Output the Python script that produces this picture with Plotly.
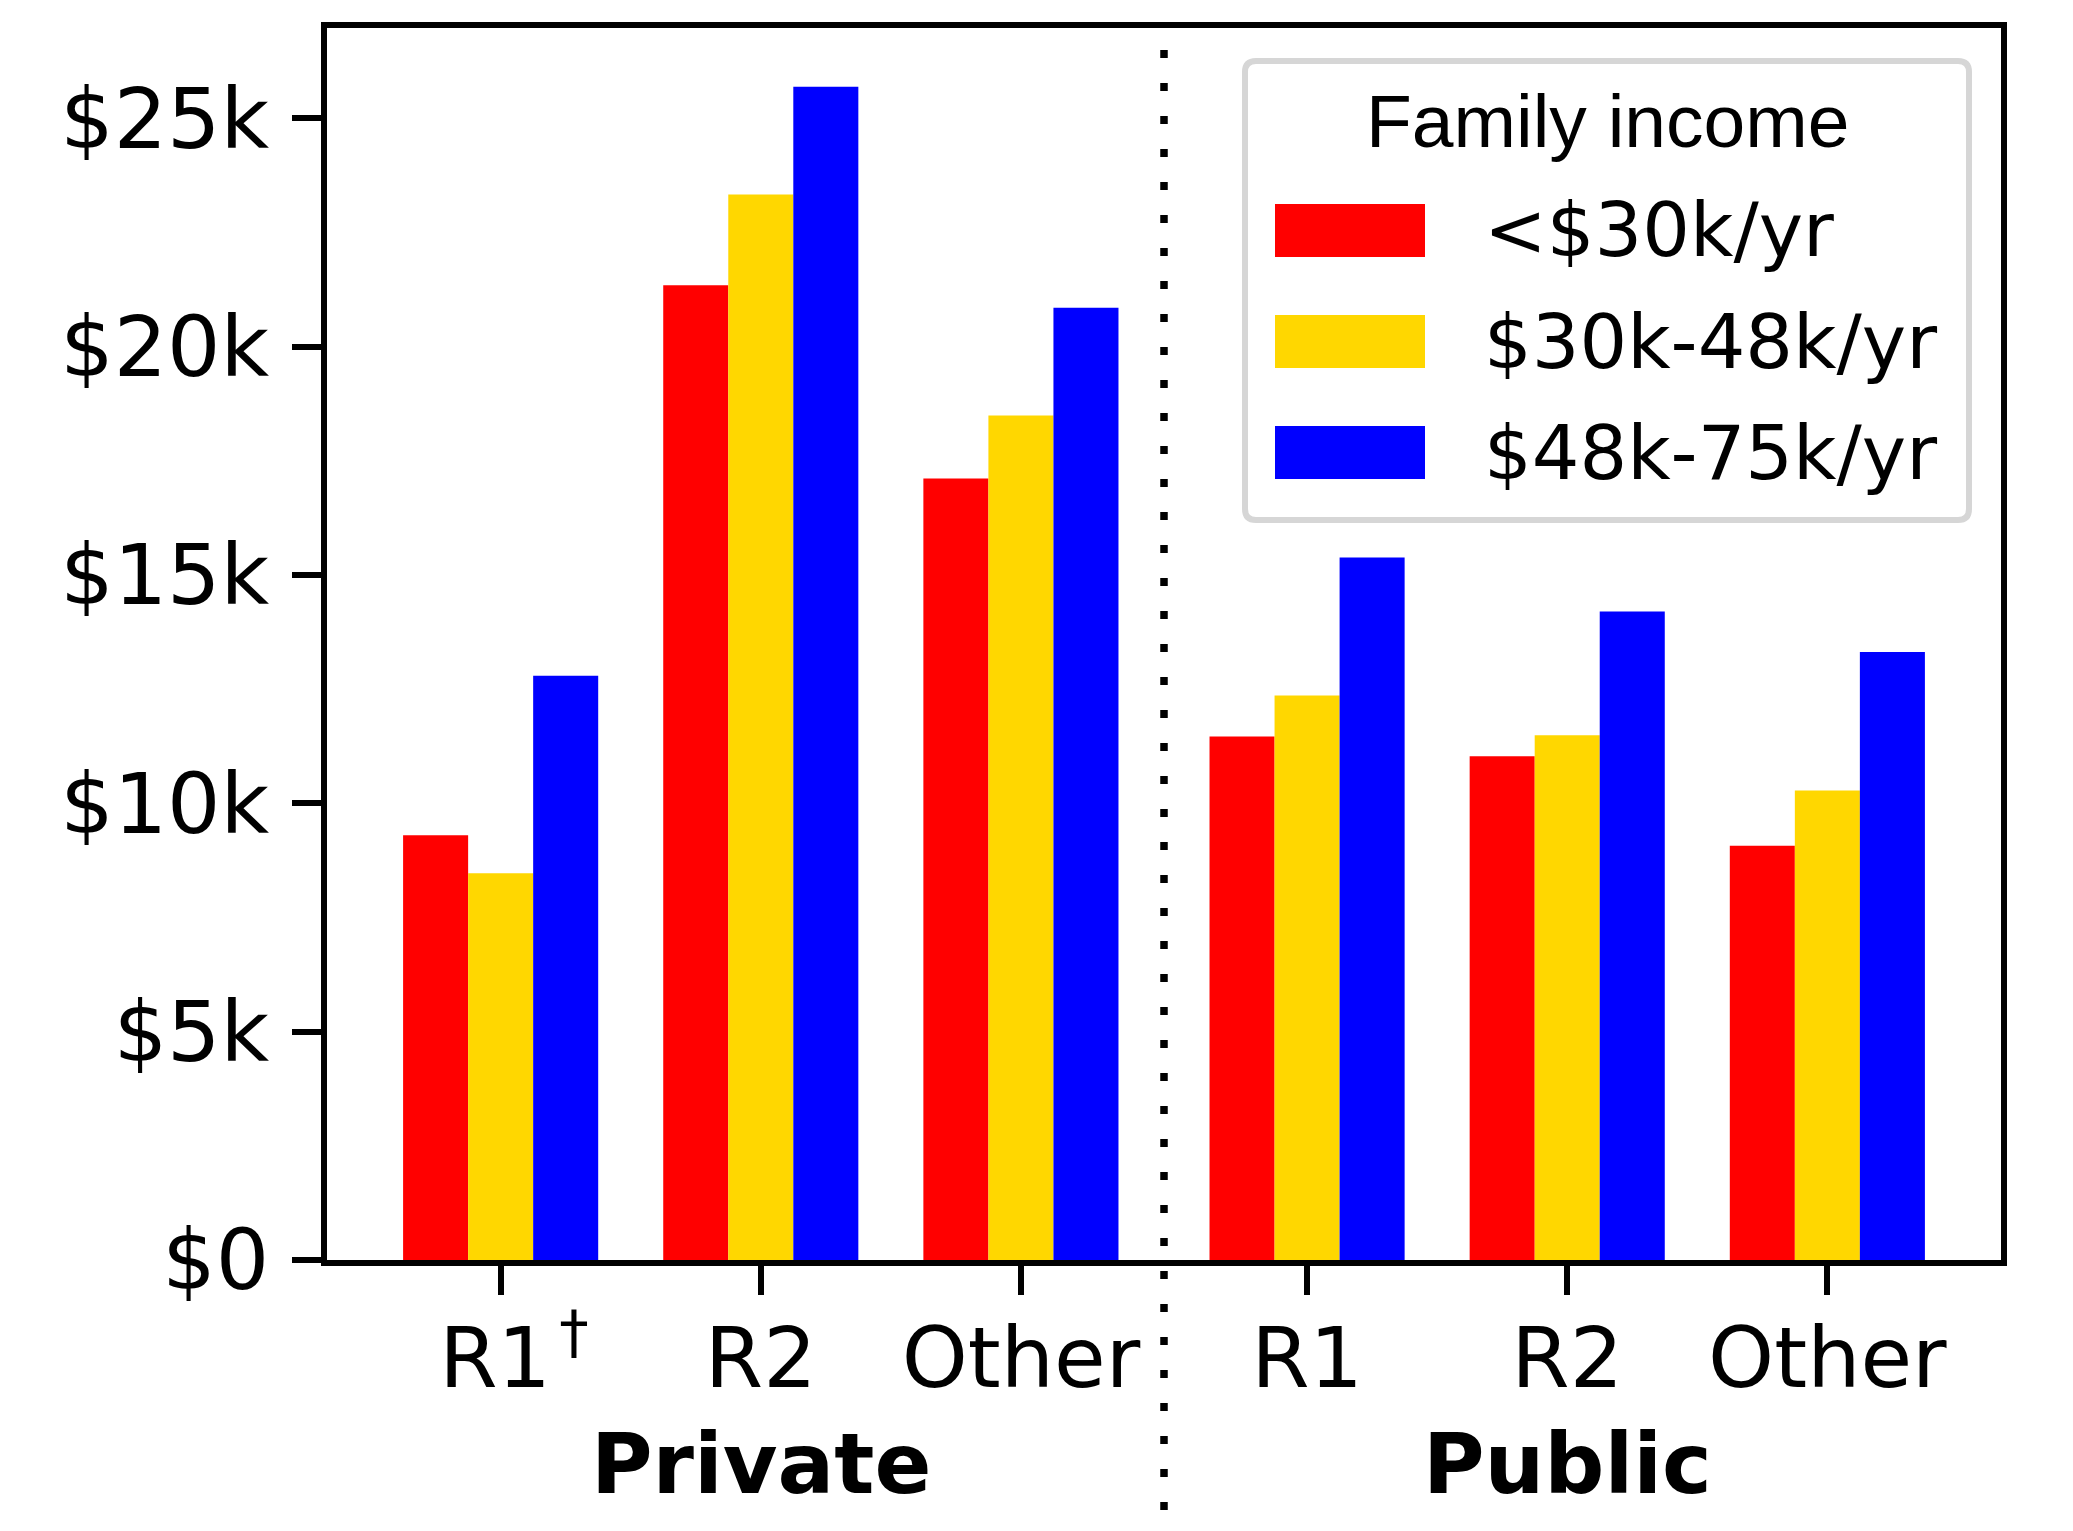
import plotly.graph_objects as go

# ---------------- data ----------------
sectors = ["Private", "Public"]
tick_labels = ["\u00a0R1\u200a<sup>\u2020</sup>", "R2", "Other", "R1", "R2", "Other"]
income_groups = ["<$30k/yr", "$30k-48k/yr", "$48k-75k/yr"]
legend_title = "Family income"

income_low = [9300, 21340, 17110, 11460, 11030, 9070]     # <$30k/yr
income_mid = [8470, 23330, 18490, 12360, 11490, 10280]    # $30k-48k/yr
income_high = [12790, 25690, 20850, 15380, 14200, 13310]  # $48k-75k/yr

y_tick_vals = [0, 5000, 10000, 15000, 20000, 25000]
y_tick_text = ["$0", "$5k", "$10k", "$15k", "$20k", "$25k"]

# ---------------- styles / layout ----------------
colors = ["#ff0000", "#ffd700", "#0000ff"]
series = [income_low, income_mid, income_high]

W_FIG, H_FIG = 2073, 1531
L, R, T, B = 327, 2001, 28, 1260  # plot area in px
PW, PH = R - L, B - T

n_per_group = 3
group_gap = 0.1
positions = [g * (n_per_group + group_gap) + i for g in range(len(sectors)) for i in range(n_per_group)]
bar_w = 0.25
offsets = [-1.5 * bar_w + k * bar_w for k in range(3)]

x_lo = min(positions) - 1.5 * bar_w
x_hi = max(positions) + 1.5 * bar_w
span = x_hi - x_lo
x_range = [x_lo - 0.05 * span, x_hi + 0.05 * span]
y_range = [0, 1.05 * max(max(s) for s in series)]


def px_x(x):
    return (x - L) / PW


def px_y(y):
    return (B - y) / PH


fig = go.Figure()
for name, vals, col, off in zip(income_groups, series, colors, offsets):
    fig.add_trace(go.Bar(
        x=positions, y=vals, name=name, width=bar_w, offset=off,
        marker=dict(color=col, line=dict(width=0)),
        showlegend=False,
    ))

tick_font = dict(family="DejaVu Sans", size=84, color="black")

fig.update_layout(
    width=W_FIG, height=H_FIG,
    margin=dict(l=L, r=W_FIG - R, t=T, b=H_FIG - B, pad=0),
    paper_bgcolor="white", plot_bgcolor="white",
    barmode="overlay",
    showlegend=False,
    xaxis=dict(
        range=x_range, tickmode="array", tickvals=positions, ticktext=tick_labels,
        showgrid=False, zeroline=False, showline=True, linecolor="black", linewidth=6,
        mirror=True, ticks="outside", ticklen=29, tickwidth=6, tickcolor="black",
        tickfont=tick_font, ticklabelstandoff=-9,
    ),
    yaxis=dict(
        range=y_range, tickmode="array", tickvals=y_tick_vals, ticktext=y_tick_text,
        showgrid=False, zeroline=False, showline=True, linecolor="black", linewidth=6,
        mirror=True, ticks="outside", ticklen=29, tickwidth=6, tickcolor="black",
        tickfont=tick_font, ticklabelstandoff=6,
    ),
)

# group labels
for g, sec in enumerate(sectors):
    grp = positions[g * n_per_group:(g + 1) * n_per_group]
    fig.add_annotation(
        x=sum(grp) / len(grp), xref="x", y=px_y(1464), yref="paper",
        text=f"<b>{sec}</b>", showarrow=False, xanchor="center", yanchor="middle",
        font=dict(family="DejaVu Sans", size=84, color="black"),
    )

# dotted divider between groups
div_x = (positions[n_per_group - 1] + positions[n_per_group]) / 2
fig.add_shape(
    type="line", xref="x", yref="paper", x0=div_x, x1=div_x, y0=px_y(1510), y1=1,
    line=dict(color="black", width=7.5, dash="8px,25px"), layer="above",
)

# legend (drawn manually to match the large patches)
bx0, bx1, by0, by1 = 1245, 1969, 61, 520
rad = 11
rx, ry = rad / PW, rad / PH
X0, X1, Yt, Yb = px_x(bx0), px_x(bx1), px_y(by0), px_y(by1)
path = (f"M {X0 + rx},{Yt} L {X1 - rx},{Yt} Q {X1},{Yt} {X1},{Yt - ry} "
        f"L {X1},{Yb + ry} Q {X1},{Yb} {X1 - rx},{Yb} "
        f"L {X0 + rx},{Yb} Q {X0},{Yb} {X0},{Yb + ry} "
        f"L {X0},{Yt - ry} Q {X0},{Yt} {X0 + rx},{Yt} Z")
fig.add_shape(type="path", path=path, xref="paper", yref="paper",
              fillcolor="white", line=dict(color="#d6d6d6", width=6), layer="above")

fig.add_annotation(
    x=px_x(1607), y=px_y(121), xref="paper", yref="paper", text=legend_title,
    showarrow=False, xanchor="center", yanchor="middle",
    font=dict(family="Liberation Sans, Arial", size=75, color="black"),
)

row_top0, row_step, patch_h = 204, 111, 53
for k, (name, col) in enumerate(zip(income_groups, colors)):
    top = row_top0 + k * row_step
    fig.add_shape(type="rect", xref="paper", yref="paper",
                  x0=px_x(1275), x1=px_x(1425), y0=px_y(top + patch_h), y1=px_y(top),
                  fillcolor=col, line=dict(width=0), layer="above")
    fig.add_annotation(
        x=px_x(1482), y=px_y(top + patch_h / 2), xref="paper", yref="paper",
        text=name, showarrow=False, xanchor="left", yanchor="middle",
        font=dict(family="DejaVu Sans", size=75, color="black"),
    )

fig.write_html("out.html", config={"displayModeBar": False},
               post_script="document.body.style.margin='0';")
